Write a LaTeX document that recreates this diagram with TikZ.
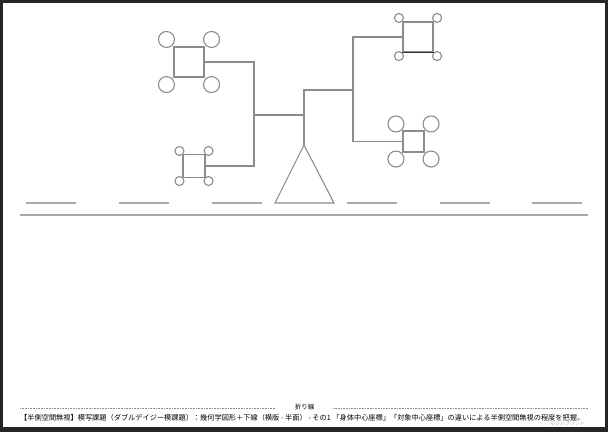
\documentclass[tikz,border=0pt]{standalone}
\usepackage{fontspec}
\newfontfamily\jpfont{Noto Sans CJK JP}
\usetikzlibrary{calc}

\definecolor{framedark}{HTML}{262626}
\definecolor{linegray}{HTML}{8C8C8C}
\definecolor{rulegray}{HTML}{A8A8A8}

\tikzset{
  line/.style={draw=linegray, line width=1.1pt},
  petal/.style={circle, draw=linegray, line width=1.1pt, inner sep=0pt},
  core/.style={rectangle, draw=linegray, line width=1.1pt, inner sep=0pt},
  rule/.style={draw=rulegray, line width=1.6pt},
}

% name, centre, width, height, radius, offset
\newcommand{\daisy}[6]{%
  \node[core, minimum width=#3, minimum height=#4] (#1) at (#2) {};
  \foreach \c/\dx/\dy in {north west/-1/-1, north east/1/-1, south west/-1/1, south east/1/1}
    \node[petal, minimum size=2*#5] at ($(#1.\c)+(\dx*#6,\dy*#6)$) {};
}

\begin{document}
\begin{tikzpicture}[x=1pt,y=-1pt]
\useasboundingbox (0,0) rectangle (608,432);
\fill[framedark] (0,0) rectangle (608,432);
\fill[white] (3,3) rectangle (605,427);

% flowers
\daisy{tl}{189,62}{30pt}{30pt}{8pt}{7}
\daisy{sl}{194,166}{22pt}{23pt}{4.5pt}{3}
\daisy{tr}{418,37}{30pt}{30pt}{4.5pt}{3.5}
\daisy{br}{413.5,141.5}{21pt}{21pt}{8pt}{6.5}
\draw[black!80, line width=1.1pt] (tr.south west) -- (tr.south east);

% balance
\coordinate (apex) at (304,145);
\coordinate (baseL) at (275,203);
\coordinate (baseR) at (334,203);
\coordinate (armL) at (254,115);
\coordinate (armR) at (353,90);
\draw[line] (apex) -- (baseL) -- (baseR) -- cycle;
\draw[line] (tl.east) -| (armL) |- (sl.east);
\draw[line] (tr.west) -| (armR) |- (br.west);
\draw[line] (armR) -| (apex);
\draw[line] (armL) -- (armL -| apex);

% underline
\foreach \x in {26,119,212,347,440,532}
\draw[rule, line width=1.4pt] (\x,203) -- ++(50,0);
\draw[rule] (20,215) -- (588,215);

% fold line
\node[font=\jpfont\fontsize{6.5}{7}\selectfont] (fold) at (304.5,407.5) {折り線};
\draw[linegray, line width=0.6pt, dash pattern=on 0.6pt off 1pt] (20,408) -- (275,408);
\draw[linegray, line width=0.6pt, dash pattern=on 0.6pt off 1pt] (333,408) -- (589,408);

\node[anchor=west, inner sep=0pt, font=\jpfont\fontsize{7.2}{8}\selectfont] (caption) at (20,418)
{【半側空間無視】模写課題（ダブルデイジー模課題）：幾何学図形＋下線（横版 - 半面） - その1 「身体中心座標」「対象中心座標」の違いによる半側空間無視の程度を把握。};
\node[anchor=east, inner sep=0pt, text=gray!60, font=\jpfont\fontsize{5}{6}\selectfont] (copy) at (585,423.5) {©リハプリント};
\end{tikzpicture}
\end{document}
